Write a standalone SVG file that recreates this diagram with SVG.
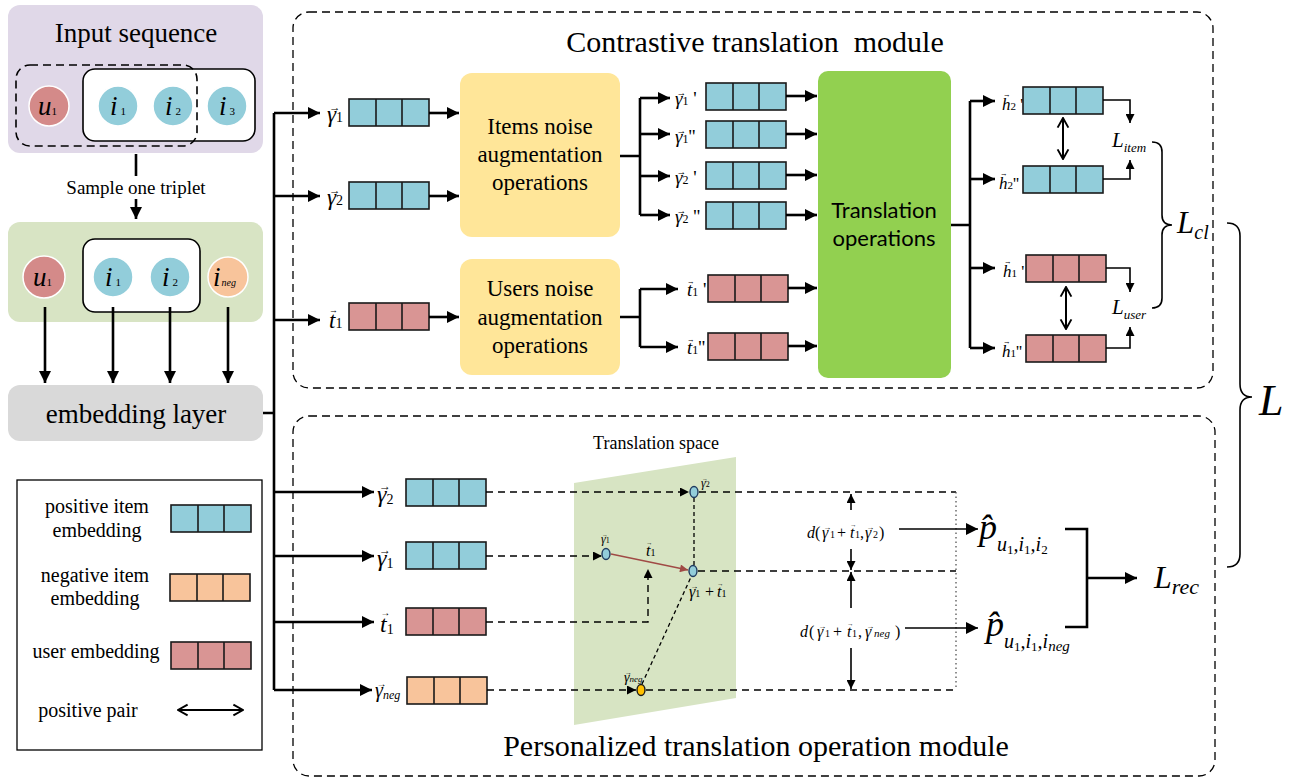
<svg xmlns="http://www.w3.org/2000/svg" xmlns:xlink="http://www.w3.org/1999/xlink" width="1296" height="779" viewBox="0 0 1296 779">
<style>
text{font-family:"Liberation Serif","DejaVu Serif",serif;fill:#000}
.it{font-style:italic}
.sans{font-family:Lato,"Liberation Sans",sans-serif}
.c{text-anchor:middle}
.thick{stroke:#000;stroke-width:2.6;fill:none}
.thin{stroke:#000;stroke-width:1.6;fill:none}
.dash{stroke:#000;stroke-width:1.4;fill:none;stroke-dasharray:7 5}
.mod{stroke:#000;stroke-width:1.3;fill:none;stroke-dasharray:8 5}
</style>
<defs>
<marker id="ah" viewBox="0 0 10 10" refX="10" refY="5" markerWidth="14" markerHeight="12" markerUnits="userSpaceOnUse" orient="auto"><path d="M0,0L10,5L0,10z" fill="#000"/></marker>
<marker id="as" viewBox="0 0 10 10" refX="10" refY="5" markerWidth="10" markerHeight="9" markerUnits="userSpaceOnUse" orient="auto"><path d="M0,0L10,5L0,10z" fill="#000"/></marker>
<marker id="ar" viewBox="0 0 10 10" refX="10" refY="5" markerWidth="9" markerHeight="8" markerUnits="userSpaceOnUse" orient="auto"><path d="M0,0L10,5L0,10z" fill="#a04a45"/></marker>
<marker id="ao" viewBox="0 0 10 10" refX="9" refY="5" markerWidth="12" markerHeight="14" markerUnits="userSpaceOnUse" orient="auto-start-reverse"><path d="M1,0.5L9,5L1,9.5" fill="none" stroke="#000" stroke-width="1.6"/></marker>
<g id="bbox"><rect width="80" height="27" fill="#92cdda" stroke="#1a1a1a" stroke-width="1.6"/><path d="M27,0V27M53,0V27" stroke="#1a1a1a" stroke-width="1.6"/></g>
<g id="rbox"><rect width="80" height="27" fill="#d99594" stroke="#1a1a1a" stroke-width="1.6"/><path d="M27,0V27M53,0V27" stroke="#1a1a1a" stroke-width="1.6"/></g>
<g id="obox"><rect width="80" height="27" fill="#f8c49b" stroke="#1a1a1a" stroke-width="1.6"/><path d="M27,0V27M53,0V27" stroke="#1a1a1a" stroke-width="1.6"/></g>
</defs>

<!-- Input sequence -->
<g id="input-sequence">
<rect x="8" y="5" width="255" height="148" rx="12" fill="#e0d8e8"/>
<text x="136" y="42" font-size="27" class="c">Input sequence</text>
<rect x="83" y="69" width="172" height="72" rx="12" fill="#fff" stroke="#000" stroke-width="1.6"/>
<rect x="16" y="65" width="181" height="81" rx="14" fill="none" stroke="#000" stroke-width="1.6" stroke-dasharray="8 5"/>
<circle cx="49" cy="106" r="20" fill="#d48a89" stroke="#fff" stroke-width="1.5"/>
<circle cx="118" cy="106" r="20" fill="#92cdda" stroke="#fff" stroke-width="1.5"/>
<circle cx="173" cy="106" r="20" fill="#92cdda" stroke="#fff" stroke-width="1.5"/>
<circle cx="227" cy="106" r="20" fill="#92cdda" stroke="#fff" stroke-width="1.5"/>
<text x="38" y="115" font-size="27"><tspan class="it">u</tspan><tspan font-size="11">1</tspan></text>
<text x="110" y="115" font-size="27"><tspan class="it">i</tspan><tspan font-size="11" dx="3">1</tspan></text>
<text x="165" y="115" font-size="27"><tspan class="it">i</tspan><tspan font-size="11" dx="3">2</tspan></text>
<text x="219" y="115" font-size="27"><tspan class="it">i</tspan><tspan font-size="11" dx="3">3</tspan></text>
</g>

<g id="sample-label">
<text x="136" y="194" font-size="19" class="c">Sample one triplet</text>
</g>

<!-- Sampled triplet -->
<g id="triplet">
<rect x="8" y="222" width="255" height="100" rx="12" fill="#d8e4c4"/>
<rect x="83" y="239" width="117" height="73" rx="12" fill="#fff" stroke="#000" stroke-width="1.6"/>
<circle cx="44" cy="277" r="21" fill="#d48a89" stroke="#fff" stroke-width="1.5"/>
<circle cx="113" cy="277" r="20" fill="#92cdda" stroke="#fff" stroke-width="1.5"/>
<circle cx="170" cy="277" r="20" fill="#92cdda" stroke="#fff" stroke-width="1.5"/>
<circle cx="228" cy="277" r="20" fill="#f8c49b" stroke="#fff" stroke-width="1.5"/>
<text x="33" y="286" font-size="27"><tspan class="it">u</tspan><tspan font-size="11">1</tspan></text>
<text x="105" y="286" font-size="27"><tspan class="it">i</tspan><tspan font-size="11" dx="3">1</tspan></text>
<text x="162" y="286" font-size="27"><tspan class="it">i</tspan><tspan font-size="11" dx="3">2</tspan></text>
<text x="213" y="286" font-size="27"><tspan class="it">i</tspan><tspan font-size="10" class="it" dx="1">neg</tspan></text>
</g>

<g id="embedding-layer">
<rect x="8" y="385" width="255" height="56" rx="12" fill="#d9d9d9"/>
<text x="136" y="423" font-size="27" class="c">embedding layer</text>
</g>

<!-- Legend -->
<g id="legend">
<rect x="17" y="480" width="245" height="270" fill="#fff" stroke="#000" stroke-width="1.3"/>
<text x="97" y="513" font-size="20" class="c">positive item</text>
<text x="97" y="537" font-size="20" class="c">embedding</text>
<use xlink:href="#bbox" x="171" y="505"/>
<text x="95" y="582" font-size="20" class="c">negative item</text>
<text x="95" y="605" font-size="20" class="c">embedding</text>
<use xlink:href="#obox" x="170" y="574"/>
<text x="96" y="658" font-size="20" class="c">user embedding</text>
<use xlink:href="#rbox" x="171" y="642"/>
<text x="88" y="717" font-size="20" class="c">positive pair</text>
<path d="M178,710H243" stroke="#000" stroke-width="1.8" marker-start="url(#ao)" marker-end="url(#ao)"/>
</g>

<!-- Module frames -->
<g id="contrastive-module">
<rect x="293" y="12" width="920" height="376" rx="16" class="mod"/>
<text x="755" y="52" font-size="30" class="c" xml:space="preserve">Contrastive translation  module</text>
</g>
<g id="personalized-module">
<rect x="293" y="416" width="922" height="360" rx="16" class="mod"/>
<text x="756" y="756" font-size="30" class="c">Personalized translation operation module</text>
</g>

<!-- Top module nodes -->
<g id="top-inputs">
<text y="122" font-size="23"><tspan x="329" dy="-11.5" font-size="11.5">→</tspan><tspan x="327" dy="11.5" class="it">γ</tspan><tspan font-size="14">1</tspan></text>
<use xlink:href="#bbox" x="349" y="99"/>
<text y="205" font-size="23"><tspan x="329" dy="-11.5" font-size="11.5">→</tspan><tspan x="327" dy="11.5" class="it">γ</tspan><tspan font-size="14">2</tspan></text>
<use xlink:href="#bbox" x="349" y="182"/>
<text y="328" font-size="23"><tspan x="329" dy="-15" font-size="9">→</tspan><tspan x="329" dy="15" class="it">t</tspan><tspan font-size="14">1</tspan></text>
<use xlink:href="#rbox" x="349" y="303"/>
</g>

<g id="items-noise">
<rect x="460" y="73" width="160" height="164" rx="12" fill="#ffe699"/>
<text x="540" y="134" font-size="23" class="c">Items noise</text>
<text x="540" y="162" font-size="23" class="c">augmentation</text>
<text x="540" y="190" font-size="23" class="c">operations</text>
</g>
<g id="users-noise">
<rect x="460" y="259" width="160" height="116" rx="12" fill="#ffe699"/>
<text x="540" y="296" font-size="23" class="c">Users noise</text>
<text x="540" y="325" font-size="23" class="c">augmentation</text>
<text x="540" y="353" font-size="23" class="c">operations</text>
</g>

<g id="augmented">
<text y="105" font-size="19"><tspan x="676.5" dy="-9.5" font-size="9.5">→</tspan><tspan x="675" dy="9.5" class="it">γ</tspan><tspan font-size="12">1</tspan><tspan> '</tspan></text>
<use xlink:href="#bbox" x="706" y="83"/>
<text y="143" font-size="19"><tspan x="676.5" dy="-9.5" font-size="9.5">→</tspan><tspan x="675" dy="9.5" class="it">γ</tspan><tspan font-size="12">1</tspan><tspan>''</tspan></text>
<use xlink:href="#bbox" x="706" y="121"/>
<text y="184" font-size="19"><tspan x="676.5" dy="-9.5" font-size="9.5">→</tspan><tspan x="675" dy="9.5" class="it">γ</tspan><tspan font-size="12">2</tspan><tspan> '</tspan></text>
<use xlink:href="#bbox" x="706" y="162"/>
<text y="223" font-size="19"><tspan x="676.5" dy="-9.5" font-size="9.5">→</tspan><tspan x="675" dy="9.5" class="it">γ</tspan><tspan font-size="12">2</tspan><tspan> ''</tspan></text>
<use xlink:href="#bbox" x="706" y="202"/>
<text y="296" font-size="19"><tspan x="687" dy="-12.5" font-size="7.6">→</tspan><tspan x="687" dy="12.5" class="it">t</tspan><tspan font-size="12">1</tspan><tspan> '</tspan></text>
<use xlink:href="#rbox" x="708" y="275"/>
<text y="354" font-size="19"><tspan x="687" dy="-12.5" font-size="7.6">→</tspan><tspan x="687" dy="12.5" class="it">t</tspan><tspan font-size="12">1</tspan><tspan>''</tspan></text>
<use xlink:href="#rbox" x="708" y="333"/>
</g>

<g id="translation-operations">
<rect x="818" y="71" width="133" height="307" rx="10" fill="#92d050"/>
<text x="884" y="218" font-size="22" class="c sans">Translation</text>
<text x="884" y="246" font-size="22" class="c sans">operations</text>
</g>

<g id="outputs">
<text y="110" font-size="17"><tspan x="1003" dy="-12.6" font-size="7.6">→</tspan><tspan x="1002" dy="12.6" class="it">h</tspan><tspan font-size="11">2</tspan><tspan> '</tspan></text>
<use xlink:href="#bbox" x="1023" y="87"/>
<text y="189" font-size="17"><tspan x="1000" dy="-12.6" font-size="7.6">→</tspan><tspan x="999" dy="12.6" class="it">h</tspan><tspan font-size="11">2</tspan><tspan>''</tspan></text>
<use xlink:href="#bbox" x="1023" y="166"/>
<text y="277" font-size="17"><tspan x="1004" dy="-12.6" font-size="7.6">→</tspan><tspan x="1003" dy="12.6" class="it">h</tspan><tspan font-size="11">1</tspan><tspan> '</tspan></text>
<use xlink:href="#rbox" x="1026" y="255"/>
<text y="357" font-size="17"><tspan x="1003" dy="-12.6" font-size="7.6">→</tspan><tspan x="1002" dy="12.6" class="it">h</tspan><tspan font-size="11">1</tspan><tspan>''</tspan></text>
<use xlink:href="#rbox" x="1026" y="335"/>
</g>

<g id="losses">
<text x="1112" y="147" font-size="21" class="it">L<tspan font-size="13" dy="5">item</tspan></text>
<text x="1112" y="314" font-size="21" class="it">L<tspan font-size="13" dy="5">user</tspan></text>
<text x="1177" y="233" font-size="31" class="it">L<tspan font-size="20" dy="6">cl</tspan></text>
<text x="1259" y="415" font-size="44" class="it">L</text>
<text x="1154" y="588" font-size="32" class="it">L<tspan font-size="22" dy="6">rec</tspan></text>
</g>

<!-- Bottom module nodes -->
<g id="bottom-inputs">
<text y="502" font-size="24"><tspan x="379" dy="-12" font-size="12">→</tspan><tspan x="377" dy="12" class="it">γ</tspan><tspan font-size="14" dy="2">2</tspan></text>
<use xlink:href="#bbox" x="406" y="479"/>
<text y="566" font-size="24"><tspan x="379" dy="-12" font-size="12">→</tspan><tspan x="377" dy="12" class="it">γ</tspan><tspan font-size="14" dy="2">1</tspan></text>
<use xlink:href="#bbox" x="406" y="542"/>
<text y="632" font-size="24"><tspan x="380.5" dy="-16" font-size="9.6">→</tspan><tspan x="380" dy="16" class="it">t</tspan><tspan font-size="14" dy="2">1</tspan></text>
<use xlink:href="#rbox" x="406" y="608"/>
<text y="697" font-size="20"><tspan x="376.5" dy="-10" font-size="10">→</tspan><tspan x="375" dy="10" class="it">γ</tspan><tspan font-size="12" class="it" dy="2">neg</tspan></text>
<use xlink:href="#obox" x="407" y="677"/>
</g>

<g id="translation-space">
<polygon points="574,483 736,457 736,698 574,725" fill="#d7e4c3"/>
<text x="656" y="449" font-size="18" class="c">Translation space</text>
</g>

<!-- Connectors -->
<g id="connectors">
<path d="M136,154V176" class="thick"/>
<path d="M136,199V219" class="thick" marker-end="url(#ah)"/>
<path d="M45,307V383" class="thick" marker-end="url(#ah)"/>
<path d="M113,307V383" class="thick" marker-end="url(#ah)"/>
<path d="M170,307V383" class="thick" marker-end="url(#ah)"/>
<path d="M228,307V383" class="thick" marker-end="url(#ah)"/>
<path d="M263,413H274M274,113V690" class="thick"/>
<path d="M274,113H320" class="thick" marker-end="url(#ah)"/>
<path d="M274,196H320" class="thick" marker-end="url(#ah)"/>
<path d="M274,320H320" class="thick" marker-end="url(#ah)"/>
<path d="M274,492H374" class="thick" marker-end="url(#ah)"/>
<path d="M274,556H374" class="thick" marker-end="url(#ah)"/>
<path d="M274,622H374" class="thick" marker-end="url(#ah)"/>
<path d="M274,690H372" class="thick" marker-end="url(#ah)"/>
<path d="M429,113H459" class="thick" marker-end="url(#ah)"/>
<path d="M429,196H459" class="thick" marker-end="url(#ah)"/>
<path d="M429,317H459" class="thick" marker-end="url(#ah)"/>
<path d="M620,156H640M640,98V215" class="thick"/>
<path d="M640,98H670" class="thick" marker-end="url(#ah)"/>
<path d="M640,134H670" class="thick" marker-end="url(#ah)"/>
<path d="M640,176H670" class="thick" marker-end="url(#ah)"/>
<path d="M640,215H670" class="thick" marker-end="url(#ah)"/>
<path d="M620,317H640M640,289V347" class="thick"/>
<path d="M640,289H678" class="thick" marker-end="url(#ah)"/>
<path d="M640,347H678" class="thick" marker-end="url(#ah)"/>
<path d="M786,96H817" class="thick" marker-end="url(#ah)"/>
<path d="M786,134H817" class="thick" marker-end="url(#ah)"/>
<path d="M786,175H817" class="thick" marker-end="url(#ah)"/>
<path d="M786,215H817" class="thick" marker-end="url(#ah)"/>
<path d="M788,288H817" class="thick" marker-end="url(#ah)"/>
<path d="M788,346H817" class="thick" marker-end="url(#ah)"/>
<path d="M951,225H970M970,101V348" class="thick"/>
<path d="M970,101H995" class="thick" marker-end="url(#ah)"/>
<path d="M970,179H995" class="thick" marker-end="url(#ah)"/>
<path d="M970,268H995" class="thick" marker-end="url(#ah)"/>
<path d="M970,348H995" class="thick" marker-end="url(#ah)"/>
<path d="M1103,100H1130V123" class="thin" marker-end="url(#as)"/>
<path d="M1103,179H1130V160" class="thin" marker-end="url(#as)"/>
<path d="M1106,268H1130V292" class="thin" marker-end="url(#as)"/>
<path d="M1106,348H1130V327" class="thin" marker-end="url(#as)"/>
<path d="M1063,118V159" stroke="#000" stroke-width="2" marker-start="url(#ao)" marker-end="url(#ao)"/>
<path d="M1066,287V329" stroke="#000" stroke-width="2" marker-start="url(#ao)" marker-end="url(#ao)"/>
<path d="M1152,142Q1162,142 1162,152V215Q1162,225 1172,225Q1162,225 1162,235V298Q1162,308 1152,308" class="thin"/>
<path d="M1227,223Q1240,223 1240,236V384Q1240,397 1252,397Q1240,397 1240,410V554Q1240,567 1227,567" class="thin"/>
<path d="M486,492H689" class="dash" marker-end="url(#as)"/>
<path d="M486,556H602" class="dash" marker-end="url(#as)"/>
<path d="M486,622H648V569" class="dash" marker-end="url(#as)"/>
<path d="M487,690H636" class="dash" marker-end="url(#as)"/>
<path d="M699,492H956" class="dash"/>
<path d="M698,571H956" class="dash"/>
<path d="M646,690H956" class="dash"/>
<path d="M694,498V565" stroke="#000" stroke-width="1.3" stroke-dasharray="4 3" fill="none"/>
<path d="M642,684L691,577" stroke="#000" stroke-width="1.3" stroke-dasharray="4 3" fill="none"/>
<path d="M956,492V690" stroke="#555" stroke-width="1.3" stroke-dasharray="1.5 3" fill="none"/>
<path d="M611,554L688,570" stroke="#a04a45" stroke-width="1.6" fill="none" marker-end="url(#ar)"/>
<path d="M851,510V494" class="thin" marker-end="url(#as)"/>
<path d="M851,549V570" class="thin" marker-end="url(#as)"/>
<path d="M851,608V572" class="thin" marker-end="url(#as)"/>
<path d="M851,648V689" class="thin" marker-end="url(#as)"/>
<path d="M899,529H978" class="thin" marker-end="url(#ah)"/>
<path d="M905,628H978" class="thin" marker-end="url(#ah)"/>
<path d="M1065,529H1087V627H1065" class="thick"/>
<path d="M1087,578H1137" class="thick" marker-end="url(#ah)"/>
</g>

<g id="points">
<ellipse cx="694" cy="492" rx="4" ry="5.5" fill="#92cdda" stroke="#1f3a5f" stroke-width="1.4"/>
<ellipse cx="606" cy="554" rx="4" ry="5.5" fill="#92cdda" stroke="#1f3a5f" stroke-width="1.4"/>
<ellipse cx="693" cy="571" rx="4" ry="5.5" fill="#92cdda" stroke="#1f3a5f" stroke-width="1.4"/>
<ellipse cx="641" cy="690" rx="4" ry="5.5" fill="#ffc000" stroke="#1a1a1a" stroke-width="1.4"/>
<text y="487" font-size="12"><tspan x="702" dy="-6" font-size="6">→</tspan><tspan x="701" dy="6" class="it">γ</tspan><tspan font-size="8">2</tspan></text>
<text y="543" font-size="12"><tspan x="602" dy="-6" font-size="6">→</tspan><tspan x="601" dy="6" class="it">γ</tspan><tspan font-size="8">1</tspan></text>
<text y="556" font-size="16"><tspan x="646" dy="-10.6" font-size="6.4">→</tspan><tspan x="646" dy="10.6" class="it">t</tspan><tspan font-size="10">1</tspan></text>
<text y="597" font-size="16"><tspan x="690.3" dy="-8" font-size="8">→</tspan><tspan x="689" dy="8" class="it">γ</tspan><tspan font-size="10">1</tspan><tspan x="705">+</tspan><tspan x="717" dy="-10.6" font-size="6.4">→</tspan><tspan x="717" dy="10.6" class="it">t</tspan><tspan font-size="10">1</tspan></text>
<text y="682" font-size="14"><tspan x="625" dy="-7" font-size="7">→</tspan><tspan x="624" dy="7" class="it">γ</tspan><tspan font-size="9" class="it">neg</tspan></text>
</g>

<g id="scores">
<text y="538" font-size="16"><tspan x="807" class="it">d</tspan><tspan x="815">(</tspan><tspan x="823.3" dy="-8" font-size="8">→</tspan><tspan x="822" dy="8" class="it">γ</tspan><tspan x="830" font-size="10">1</tspan><tspan x="837">+</tspan><tspan x="850" dy="-10.6" font-size="6.4">→</tspan><tspan x="850" dy="10.6" class="it">t</tspan><tspan x="855" font-size="10">1</tspan><tspan x="860">,</tspan><tspan x="866.3" dy="-8" font-size="8">→</tspan><tspan x="865" dy="8" class="it">γ</tspan><tspan x="873" font-size="10">2</tspan><tspan x="879">)</tspan></text>
<text y="637" font-size="16"><tspan x="800" class="it">d</tspan><tspan x="809">(</tspan><tspan x="818.3" dy="-8" font-size="8">→</tspan><tspan x="817" dy="8" class="it">γ</tspan><tspan x="825" font-size="10">1</tspan><tspan x="833">+</tspan><tspan x="847" dy="-10.6" font-size="6.4">→</tspan><tspan x="847" dy="10.6" class="it">t</tspan><tspan x="852" font-size="10">1</tspan><tspan x="858">,</tspan><tspan x="866.3" dy="-8" font-size="8">→</tspan><tspan x="865" dy="8" class="it">γ</tspan><tspan x="874" font-size="11" class="it">neg</tspan><tspan x="895">)</tspan></text>
<text x="979" y="539" font-size="36" class="it">p̂<tspan font-size="20" dy="12">u</tspan><tspan font-size="13" font-style="normal" dy="3">1</tspan><tspan font-size="20" dy="-3">,i</tspan><tspan font-size="13" font-style="normal" dy="3">1</tspan><tspan font-size="20" dy="-3">,i</tspan><tspan font-size="13" font-style="normal" dy="3">2</tspan></text>
<text x="986" y="636" font-size="36" class="it">p̂<tspan font-size="20" dy="12">u</tspan><tspan font-size="13" font-style="normal" dy="3">1</tspan><tspan font-size="20" dy="-3">,i</tspan><tspan font-size="13" font-style="normal" dy="3">1</tspan><tspan font-size="20" dy="-3">,i</tspan><tspan font-size="15" dy="3">neg</tspan></text>
</g>
</svg>
